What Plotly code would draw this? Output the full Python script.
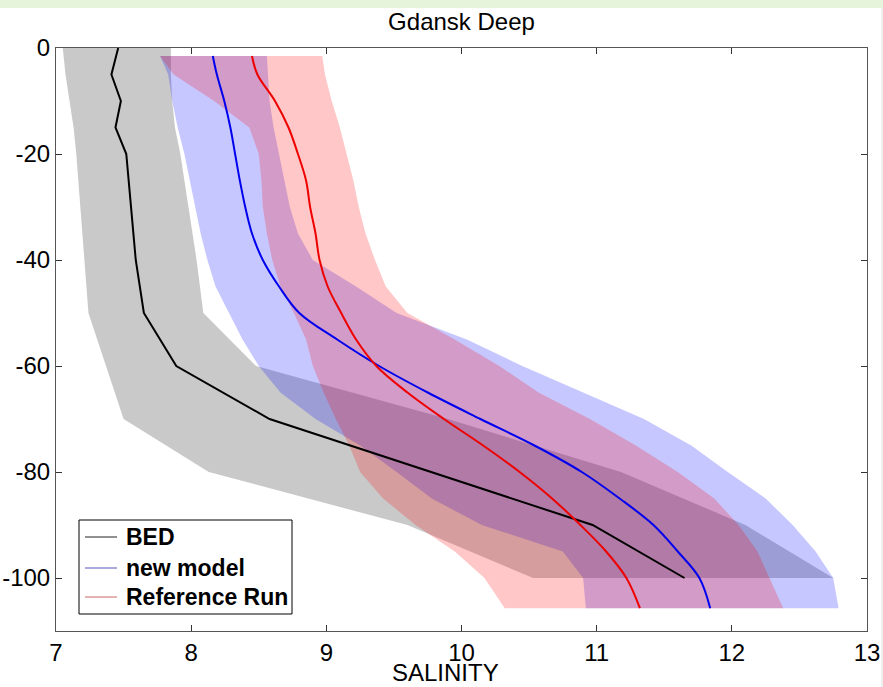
import plotly.graph_objects as go

# ---- BED climatology (mean and spread) ----
bed_depth = [0, -5, -10, -15, -20, -30, -40, -50, -60, -70, -80, -90, -100]
bed_mean = [7.46, 7.41, 7.48, 7.44, 7.52, 7.555, 7.59, 7.65, 7.89, 8.58, 9.78, 10.97, 11.65]
bed_low = [7.05, 7.07, 7.10, 7.13, 7.15, 7.18, 7.21, 7.24, 7.37, 7.50, 8.13, 9.60, 10.53]
bed_high = [7.85, 7.85, 7.86, 7.88, 7.92, 7.98, 8.04, 8.09, 8.48, 9.90, 11.18, 12.10, 12.75]

# ---- model profiles ----
model_depth = [-1.5, -5, -10, -15, -20, -25, -30, -35, -40, -45, -50,
               -55, -60, -65, -70, -75, -80, -85, -90, -95, -100, -105.7]

new_mean = [8.16, 8.19, 8.245, 8.29, 8.325, 8.36, 8.40, 8.45, 8.53, 8.65, 8.80,
            9.08, 9.39, 9.75, 10.14, 10.54, 10.89, 11.17, 11.42, 11.60, 11.76, 11.84]
new_low = [7.77, 7.83, 7.86, 7.90, 7.95, 7.99, 8.03, 8.07, 8.12, 8.18, 8.28,
           8.38, 8.50, 8.66, 8.92, 9.25, 9.52, 9.78, 10.15, 10.75, 10.90, 10.92]
new_high = [8.56, 8.57, 8.58, 8.61, 8.65, 8.69, 8.73, 8.79, 8.90, 9.22, 9.52,
            10.04, 10.45, 10.90, 11.35, 11.70, 11.97, 12.25, 12.45, 12.62, 12.75, 12.79]

ref_mean = [8.45, 8.49, 8.62, 8.72, 8.79, 8.85, 8.88, 8.92, 8.95, 9.01, 9.11,
            9.22, 9.37, 9.60, 9.87, 10.16, 10.43, 10.67, 10.88, 11.07, 11.22, 11.32]
ref_low = [7.77, 7.87, 8.17, 8.43, 8.50, 8.52, 8.53, 8.56, 8.60, 8.66, 8.76,
           8.85, 8.90, 8.98, 9.07, 9.17, 9.25, 9.42, 9.66, 9.95, 10.17, 10.32]
ref_high = [8.97, 8.99, 9.04, 9.10, 9.15, 9.20, 9.24, 9.29, 9.36, 9.44, 9.60,
            9.95, 10.28, 10.57, 10.95, 11.29, 11.60, 11.87, 12.05, 12.19, 12.28, 12.38]

series_names = ["BED", "new model", "Reference Run"]
line_colors = ["black", "#0000ee", "#ee0000"]
key_colors = ["#222222", "#5555bb", "#cc6666"]
x_ticks = [7, 8, 9, 10, 11, 12, 13]
y_ticks = [0, -20, -40, -60, -80, -100]

FONT = "Liberation Sans, Arial, Helvetica, sans-serif"

# figure geometry (pixels)
W, H = 883, 687
ML, MR, MT, MB = 56, 16, 48, 56
PW, PH = W - ML - MR, H - MT - MB


def px(x):
    return (x - ML) / PW


def py(y):
    return (H - MB - y) / PH


def band(low, high, depth, color):
    return go.Scatter(
        x=list(low) + list(high)[::-1],
        y=list(depth) + list(depth)[::-1],
        fill="toself", fillcolor=color, mode="lines",
        line=dict(width=0), hoverinfo="skip", showlegend=False,
    )


fig = go.Figure()

# spread envelopes
fig.add_trace(band(bed_low, bed_high, bed_depth, "rgba(0,0,0,0.21)"))
fig.add_trace(band(new_low, new_high, model_depth, "rgba(0,0,255,0.22)"))
fig.add_trace(band(ref_low, ref_high, model_depth, "rgba(255,0,0,0.22)"))

# mean profiles
fig.add_trace(go.Scatter(x=bed_mean, y=bed_depth, mode="lines", name=series_names[0],
                         line=dict(color=line_colors[0], width=2), showlegend=False))
fig.add_trace(go.Scatter(x=new_mean, y=model_depth, mode="lines", name=series_names[1],
                         line=dict(color=line_colors[1], width=2, shape="spline", smoothing=1.0),
                         showlegend=False))
fig.add_trace(go.Scatter(x=ref_mean, y=model_depth, mode="lines", name=series_names[2],
                         line=dict(color=line_colors[2], width=2, shape="spline", smoothing=1.0),
                         showlegend=False))

axis_common = dict(
    showgrid=False, zeroline=False, showline=True, linecolor="#555555", linewidth=1,
    mirror="ticks", ticks="inside", ticklen=6, tickcolor="#333333", automargin=False,
    tickfont=dict(family=FONT, size=24, color="black"),
)

# legend box drawn as a framed panel with short keys
shapes = [
    dict(type="rect", xref="paper", yref="paper", x0=-0.1, x1=1.1,
         y0=1 + 40 / PH, y1=1 + 48 / PH, fillcolor="#e6f4dc",
         line=dict(width=0), layer="below"),
    dict(type="line", xref="paper", yref="paper", x0=px(882), x1=px(882),
         y0=py(H), y1=py(8), line=dict(color="#dddddd", width=1)),
    dict(type="rect", xref="paper", yref="paper", x0=px(79), x1=px(292),
         y0=py(614), y1=py(520), fillcolor="white", line=dict(color="black", width=1)),
]
annotations = []
key_rows = [537, 568, 597]
for name, col, row in zip(series_names, key_colors, key_rows):
    shapes.append(dict(type="line", xref="paper", yref="paper", x0=px(85), x1=px(117),
                       y0=py(row), y1=py(row), line=dict(color=col, width=1)))
    annotations.append(dict(text="<b>%s</b>" % name, xref="paper", yref="paper",
                            x=px(124), y=py(row), xanchor="left", yanchor="middle",
                            showarrow=False,
                            font=dict(family=FONT, size=23, color="black")))

annotations.append(dict(text="SALINITY", xref="paper", yref="paper",
                        x=px(445), y=py(672), xanchor="center", yanchor="middle",
                        showarrow=False, borderpad=0,
                        font=dict(family=FONT, size=24, color="black")))

fig.update_layout(
    width=W, height=H,
    margin=dict(l=ML, r=MR, t=MT, b=MB),
    paper_bgcolor="white", plot_bgcolor="white",
    showlegend=False,
    title=dict(text="Gdansk Deep", x=0.5, xref="paper", xanchor="center",
               y=1 - 22 / H, yanchor="middle", automargin=False,
               font=dict(family=FONT, size=24, color="black")),
    xaxis=dict(range=[7, 13], tickvals=x_ticks, ticktext=[str(v) for v in x_ticks],
               **axis_common),
    yaxis=dict(range=[-110, 0], tickvals=y_ticks, ticktext=[str(v) for v in y_ticks],
               **axis_common),
    shapes=shapes,
    annotations=annotations,
)

fig.write_html("out.html")
